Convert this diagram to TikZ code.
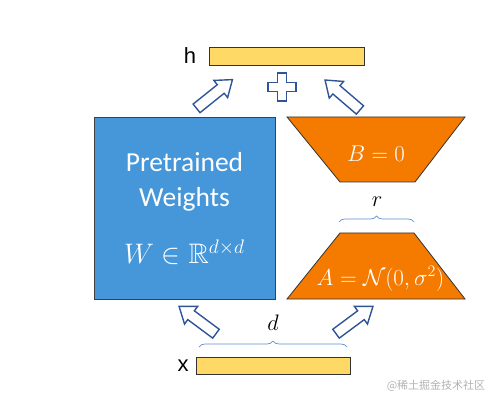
\documentclass[tikz,border=0pt]{standalone}
\usepackage{amsmath,amssymb}
\usepackage{fontspec}
\setmainfont{Carlito}
\newfontfamily\labelfont{Liberation Sans}
\newfontfamily\cjk{Noto Sans CJK SC}
\usetikzlibrary{decorations.pathreplacing}
\definecolor{wblue}{HTML}{4597DA}
\definecolor{lorange}{HTML}{F57A00}
\definecolor{vyellow}{HTML}{FFD966}
\definecolor{arrowblue}{HTML}{2F5597}
\definecolor{bracecol}{HTML}{5B8FD0}
\newcommand\blockarr[2]{\draw[arrstyle,shift={(#1)},rotate=#2]
  (-23,-5.5) -- (8,-5.5) -- (8,-11) -- (23,0) -- (8,11) -- (8,5.5) -- (-23,5.5) -- cycle;}
\begin{document}
\begin{tikzpicture}[x=1pt,y=1pt,
  vecbar/.style={draw=black!80,line width=0.9pt,fill=vyellow},
  arrstyle/.style={draw=arrowblue,fill=white,line width=1.4pt,line join=miter},
  trap/.style={draw=black!80,line width=0.8pt,fill=lorange},
  wtext/.style={text=white,anchor=base},
  braceline/.style={draw=bracecol,line width=0.7pt,decorate,decoration={brace,amplitude=6pt}},
  lbl/.style={font=\labelfont\fontsize{22}{24}\selectfont},
  mth/.style={font=\fontsize{20.74}{24}\selectfont}]
\useasboundingbox (0,0) rectangle (494,404);
% vectors
\node[vecbar,minimum width=155pt,minimum height=18pt,inner sep=0pt] (h) at (286.5,348) {};
\node[lbl] (hl) at (190,348) {h};
\node[vecbar,minimum width=154pt,minimum height=17pt,inner sep=0pt] (x) at (273,38.5) {};
\node[lbl] (xl) at (183,38) {x};
% pretrained weights
\node[draw=black!75,line width=0.8pt,fill=wblue,minimum width=181pt,minimum height=182pt,inner sep=0pt] (W) at (184.5,196) {};
\node[wtext,font=\fontsize{27.5}{30}\selectfont] (t1) at (184.5,232) {Pretrained};
\node[wtext,font=\fontsize{27.5}{30}\selectfont] (t2) at (184.5,197) {Weights};
\node[wtext,mth] (t3) at (184.5,140) {\scalebox{1.36}{$W\in\mathbb{R}^{d\times d}$}};
% B and A
\draw[trap] (287,287) -- (465,287) -- (415,222) -- (340,222) -- cycle;
\node[wtext,mth] (B) at (376,242) {\scalebox{1.1}{$B=0$}};
\draw[trap] (340,171) -- (414,171) -- (465,105) -- (287,105) -- cycle;
\node[wtext,mth] (A) at (380.5,119) {\scalebox{1.11}{$A=\mathcal{N}(0,\sigma^2)$}};
% braces
\coordinate (r1) at (339,182); \coordinate (r2) at (414,182);
\draw[braceline] (r1) -- (r2);
\node[anchor=base,mth] (r) at (377,197) {\scalebox{1.08}{$r$}};
\coordinate (d1) at (199,57); \coordinate (d2) at (347,57);
\draw[braceline] (d1) -- (d2);
\node[anchor=base,mth] (d) at (273,74) {\scalebox{1.08}{$d$}};
% block arrows
\blockarr{214.5,310}{38.7}
\blockarr{342.5,309}{139.4}
\blockarr{197.5,84}{143.4}
\blockarr{354.5,84}{36.6}
% plus
\draw[draw=arrowblue,fill=white,line width=1.4pt]
  (277.5,331) -- (286.5,331) -- (286.5,321.5) -- (296,321.5) -- (296,312.5) -- (286.5,312.5) -- (286.5,303)
  -- (277.5,303) -- (277.5,312.5) -- (268,312.5) -- (268,321.5) -- (277.5,321.5) -- cycle;
% watermark
\node[text=black!30,font=\cjk\fontsize{11}{12}\selectfont] (wm) at (436,18) {@稀土掘金技术社区};
\end{tikzpicture}
\end{document}
